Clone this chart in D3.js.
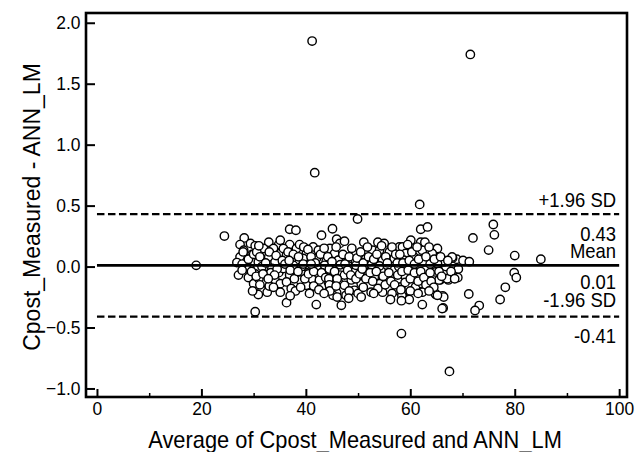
<!DOCTYPE html>
<html>
<head>
<meta charset="utf-8">
<script src="https://cdn.jsdelivr.net/npm/d3@7"></script>
<style>
  html, body { margin: 0; padding: 0; background: #fff; }
  svg { display: block; }
  text { font-family: "Liberation Sans", Arial, sans-serif; fill: #000; }
</style>
</head>
<body>
<svg id="chart" width="637" height="452"></svg>
<script>
// ---- data ----
// x: average of the two methods, y: difference (Cpost_Measured - ANN_LM)
const avgValues = [
  19.0,24.4,41.2,71.5,41.7,61.8,49.9,58.3,67.5,85.0,80.0,79.9,80.3,78.2,77.2,75.9,76.1,75.0,72.0,71.2,73.2,72.4,30.3,
  68.9,70.1,71.3,68.1,66.3,65.0,66.8,69.2,69.1,67.3,65.7,64.4,66.2,64.9,66.3,
  28.2,27.4,29.4,30.3,32.9,34.8,35.1,28.1,31.9,33.8,27.4,29.7,32.9,35.1,26.8,28.7,30.9,34.1,29.3,31.6,33.5,27.1,30.3,32.5,34.8,29.0,34.1,30.0,32.2,35.1,31.6,30.9,32.6,35.1,
  36.9,38.1,45.1,43.0,45.9,46.5,36.9,38.2,41.4,44.6,35.7,36.3,40.1,42.4,45.5,37.2,39.5,42.0,43.9,46.2,35.7,38.2,40.8,43.3,36.9,39.5,42.0,44.6,46.5,36.3,38.9,41.1,44.3,46.2,37.2,40.1,44.6,45.9,36.3,42.0,45.2,
  51.1,53.8,55.0,47.4,49.0,52.8,54.1,56.0,57.9,47.1,51.5,54.7,56.9,48.0,50.2,53.1,49.3,51.9,54.4,56.6,47.4,48.7,53.1,55.7,57.6,47.4,50.6,54.1,49.3,52.5,54.7,57.6,47.7,46.8,
  62.0,63.3,60.1,62.0,65.2,58.5,68.0,59.1,62.3,64.2,60.7,66.4,58.8,62.6,65.2,60.4,57.8,64.8,59.1,61.3,63.3,67.1,65.5,58.2,61.0,62.3,58.5,62.3,64.8,66.4,65.2,62.3,66.1,
  37.6,39.2,40.6,42.2,43.6,45.0,46.6,48.1,49.6,51.1,52.6,54.1,55.6,
  28.0,28.6,27.8,29.0,30.0,30.6,31.2,31.0,32.3,33.0,33.3,34.3,34.5,31.0,29.6,30.5,31.8,33.0,34.0,32.8,33.8,31.2,29.8,27.8,
  35.5,36.0,36.6,37.6,38.6,38.8,39.6,40.4,41.0,41.8,42.8,43.5,44.2,45.0,45.8,37.0,37.8,38.5,39.8,40.5,41.5,42.6,43.0,43.8,44.5,44.4,44.5,44.6,45.5,46.0,45.8,46.0,38.0,39.0,41.5,42.5,43.5,37.0,40.7,39.5,41.0,36.8,
  47.5,48.3,48.8,49.8,50.5,51.0,51.8,52.0,53.0,53.6,54.5,55.3,55.6,56.5,57.2,57.5,48.0,48.6,49.6,50.3,50.8,51.5,52.3,52.8,53.5,53.8,54.8,55.2,55.9,56.3,56.5,57.0,48.3,50.0,51.0,53.0,56.2,48.2,50.6,
  58.0,58.6,59.5,59.8,60.3,60.8,61.3,61.6,62.8,63.0,63.8,63.6,64.6,65.8,67.2,58.4,59.0,59.6,60.0,60.8,61.5,62.0,62.6,63.0,63.8,64.0,64.5,65.5,66.0,67.8,68.5,58.4,60.0,61.5,63.6,59.8,58.2,58.3
];
const diffValues = [
  0.01,0.25,1.85,1.74,0.77,0.51,0.39,-0.55,-0.86,0.06,0.09,-0.05,-0.09,-0.17,-0.27,0.345,0.26,0.135,0.235,-0.225,-0.32,-0.36,-0.37,
  0.06,0.05,0.04,0.07,0.05,0.14,0.0,-0.02,-0.09,-0.11,-0.11,-0.10,-0.24,-0.23,-0.34,
  0.235,0.18,0.19,0.17,0.2,0.18,0.216,0.134,0.148,0.148,0.079,0.099,0.079,0.107,0.033,0.044,0.038,0.038,-0.016,0.0,-0.016,-0.07,-0.06,-0.065,-0.05,-0.09,-0.11,-0.14,-0.125,-0.14,-0.195,-0.23,-0.21,-0.21,
  0.306,0.298,0.31,0.257,0.224,0.19,0.18,0.148,0.161,0.148,0.148,0.093,0.107,0.134,0.107,0.052,0.066,0.066,0.044,0.052,-0.016,-0.016,-0.03,-0.016,-0.07,-0.065,-0.07,-0.057,-0.07,-0.126,-0.11,-0.1,-0.126,-0.126,-0.18,-0.154,-0.18,-0.214,-0.296,-0.312,-0.236,
  0.2,0.2,0.19,0.208,0.107,0.134,0.134,0.12,0.161,0.099,0.066,0.052,0.066,0.038,0.038,0.025,-0.044,-0.044,-0.03,-0.03,-0.07,-0.11,-0.085,-0.1,-0.07,-0.154,-0.14,-0.14,-0.195,-0.21,-0.21,-0.195,-0.236,-0.318,
  0.306,0.325,0.216,0.2,0.148,0.161,0.079,0.107,0.134,0.107,0.079,0.038,0.052,0.038,0.025,-0.016,0.0,-0.044,-0.085,-0.07,-0.085,-0.1,-0.11,-0.167,-0.167,-0.14,-0.22,-0.21,-0.22,-0.25,-0.236,-0.312,-0.345,
  0.01,0.0,0.015,0.005,0.01,0.0,0.015,0.005,0.01,0.0,0.015,0.005,0.01,
  0.12,-0.01,0.02,0.06,0.1,0.12,0.08,0.17,0.03,0.12,-0.05,0.09,-0.02,-0.1,-0.04,-0.08,-0.06,-0.16,-0.07,-0.1,-0.17,-0.15,-0.2,-0.03,
  0.05,0.02,0.12,0.1,0.08,0.18,0.16,0.14,0.08,0.03,0.1,0.15,0.08,0.04,0.16,-0.03,-0.1,-0.04,-0.1,-0.06,-0.04,-0.11,-0.05,-0.09,-0.02,-0.1,-0.15,-0.2,-0.04,-0.1,-0.16,-0.25,-0.2,-0.17,-0.16,-0.19,-0.22,-0.24,-0.22,0.02,0.02,0.05,
  0.02,0.08,0.15,0.07,0.12,0.03,0.16,0.08,0.06,0.1,0.17,0.08,0.03,0.16,0.1,0.03,-0.03,-0.07,-0.1,-0.06,-0.02,-0.1,-0.05,-0.12,-0.04,-0.18,-0.08,-0.15,-0.05,-0.12,-0.22,-0.15,-0.2,-0.22,-0.17,-0.22,-0.27,-0.26,-0.25,
  0.1,0.03,0.18,0.05,0.12,0.02,0.16,0.06,0.2,0.08,0.02,0.16,0.06,0.08,0.05,-0.04,-0.13,-0.03,-0.1,-0.05,-0.12,-0.04,-0.09,-0.15,-0.05,-0.12,-0.17,-0.04,-0.08,-0.04,-0.1,-0.24,-0.2,-0.22,-0.2,-0.27,-0.19,-0.28
];
const limitLabels = ["+1.96 SD", "Mean", "-1.96 SD"];
const limitValues = [0.43, 0.01, -0.41];
const limitValueText = ["0.43", "0.01", "-0.41"];
const xTicks = [0, 20, 40, 60, 80, 100];
const xMinorTicks = [10, 30, 50, 70, 90];
const yTicks = [-1.0, -0.5, 0.0, 0.5, 1.0, 1.5, 2.0];
const xTitle = "Average of Cpost_Measured and ANN_LM";
const yTitle = "Cpost_Measured - ANN_LM";

// ---- layout ----
const W = 637, H = 452;
const margin = { top: 13, right: 10, bottom: 55, left: 86 };
const svg = d3.select("#chart");

const x = d3.scaleLinear().domain([-2.1, 101.5]).range([margin.left, W - margin.right]);
const y = d3.scaleLinear().domain([-1.07, 2.08]).range([H - margin.bottom, margin.top]);

// points (white-filled circles, drawn first so lines go over them)
const n = Math.min(avgValues.length, diffValues.length);
const pts = d3.range(n).map(i => ({ a: avgValues[i], d: diffValues[i] }));
svg.append("g").selectAll("circle").data(pts).join("circle")
  .attr("cx", p => x(p.a)).attr("cy", p => y(p.d)).attr("r", 4.2)
  .attr("fill", "#fff").attr("stroke", "#000").attr("stroke-width", 1.4);

// limit lines
limitValues.forEach((v, i) => {
  svg.append("line")
    .attr("x1", x(0)).attr("x2", x(100))
    .attr("y1", y(v)).attr("y2", y(v))
    .attr("stroke", "#000")
    .attr("stroke-width", i === 1 ? 2.6 : 2.3)
    .attr("stroke-dasharray", i === 1 ? null : "7.5,3.5");
});

// limit labels (slightly condensed, like the reference)
const labX = x(99.4);
const labelGroup = svg.append("g").attr("text-anchor", "end");
limitValues.forEach((v, i) => {
  const up = y(v) - (i === 2 ? 10 : 7.5);
  const dn = y(v) + (i === 1 ? 23.5 : 26.5);
  labelGroup.append("text").attr("transform", `translate(${labX},${up}) scale(0.9,1)`)
    .style("font-size", "20.5px").text(limitLabels[i]);
  labelGroup.append("text").attr("transform", `translate(${labX},${dn}) scale(0.9,1)`)
    .style("font-size", "20.5px").text(limitValueText[i]);
});

// frame
svg.append("rect")
  .attr("x", margin.left).attr("y", margin.top)
  .attr("width", W - margin.left - margin.right)
  .attr("height", H - margin.bottom - margin.top)
  .attr("fill", "none").attr("stroke", "#000").attr("stroke-width", 2.6);

// x axis (ticks pointing inward)
const xAxis = svg.append("g").attr("transform", `translate(0,${H - margin.bottom})`)
  .call(d3.axisBottom(x).tickValues(xTicks).tickSize(-8).tickPadding(5).tickFormat(d3.format("d")));
xAxis.select(".domain").remove();
xAxis.selectAll(".tick line").attr("stroke-width", 2);
xAxis.selectAll("text").style("font-size", "19px").style("font-family", "Liberation Sans, Arial, sans-serif")
  .attr("transform", "scale(0.92,1)");
const xMinor = svg.append("g").attr("transform", `translate(0,${H - margin.bottom})`)
  .call(d3.axisBottom(x).tickValues(xMinorTicks).tickSize(-4).tickFormat(""));
xMinor.select(".domain").remove();
xMinor.selectAll(".tick line").attr("stroke-width", 1.5);

// y axis (ticks pointing inward)
const yAxis = svg.append("g").attr("transform", `translate(${margin.left},0)`)
  .call(d3.axisLeft(y).tickValues(yTicks).tickSize(-9).tickPadding(6).tickFormat(d3.format(".1f")));
yAxis.select(".domain").remove();
yAxis.selectAll(".tick line").attr("stroke-width", 2);
yAxis.selectAll("text").style("font-size", "19px").style("font-family", "Liberation Sans, Arial, sans-serif")
  .attr("transform", "scale(0.92,1)");

// axis titles
svg.append("text").attr("transform", `translate(${(x(0) + x(100)) / 2 - 3},448) scale(0.95,1)`)
  .attr("text-anchor", "middle").style("font-size", "23px").text(xTitle);
svg.append("text").attr("transform", `translate(40,${(margin.top + H - margin.bottom) / 2 + 2}) rotate(-90)`)
  .attr("text-anchor", "middle").style("font-size", "23px").text(yTitle);
</script>
</body>
</html>
